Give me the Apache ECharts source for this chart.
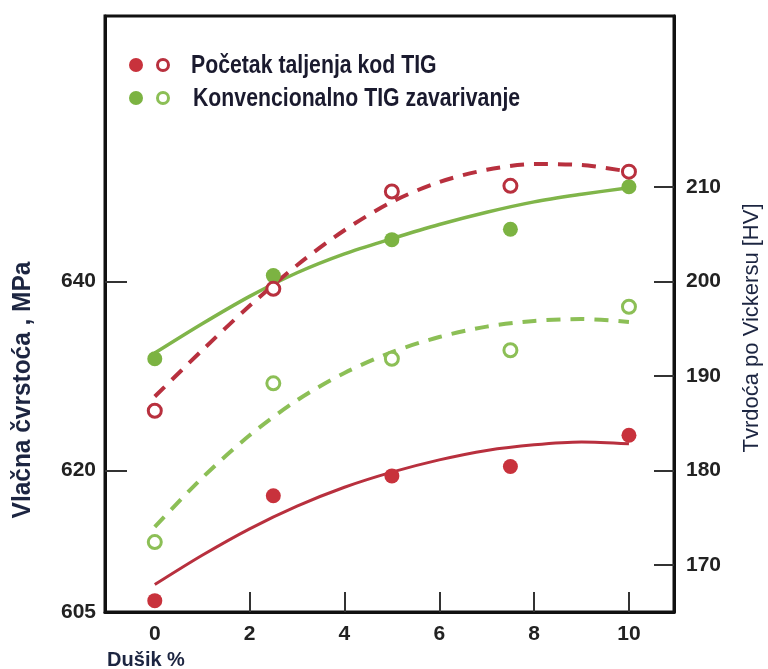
<!DOCTYPE html>
<html>
<head>
<meta charset="utf-8">
<script src="https://cdn.jsdelivr.net/npm/echarts@6/dist/echarts.min.js"></script>
<style>
html,body{margin:0;padding:0;background:#fff;}
#c{width:768px;height:669px;}
</style>
</head>
<body>
<div id="c"></div>
<script>
// x positions of measured points (Dušik %)
const xPts = [0, 2.5, 5, 7.5, 10];
// Tensile strength (MPa, left axis) measured points
const tensileTIG = [606.2, 617.3, 619.4, 620.4, 623.7];
const tensileConv = [631.8, 640.6, 644.4, 645.5, 650.0];
// Vickers hardness (HV, right axis) measured points
const hardTIG = [186.3, 199.2, 209.5, 210.1, 211.6];
const hardConv = [172.4, 189.2, 191.8, 192.7, 197.3];
// trend curves
const xFit = [0, 1, 2, 3, 4, 5, 6, 7, 8, 9, 10];
const tensileTIGFit = [607.9, 611.0, 613.8, 616.2, 618.2, 619.8, 621.1, 622.1, 622.7, 623.0, 622.8];
const tensileConvFit = [632.4, 635.5, 638.4, 640.9, 642.9, 644.5, 646.0, 647.3, 648.4, 649.2, 649.9];
const hardTIGFit = [187.8, 192.7, 197.4, 201.7, 205.4, 208.4, 210.5, 211.8, 212.4, 212.3, 211.6];
const hardConvFit = [174.0, 179.2, 183.7, 187.4, 190.3, 192.5, 194.1, 195.2, 195.8, 196.0, 195.7];
// tick labels
const xLabels = [0, 2, 4, 6, 8, 10];
const xTicks = [2, 4, 6, 8, 10];
const leftLabels = [605, 620, 640];
const leftTicks = [620, 640];
const rightLabels = [170, 180, 190, 200, 210];

const legendTIG = 'Početak taljenja kod TIG';
const legendConv = 'Konvencionalno TIG zavarivanje';
const xName = 'Dušik %';
const leftName = 'Vlačna čvrstoća , MPa';
const rightName = 'Tvrdoća po Vickersu [HV]';

const RED = '#c8323c', RED_LINE = '#b8303e';
const GREEN = '#7cb342', GREEN_LINE = '#80b54a', GREEN_OPEN = '#8cbf56';
const TXT = '#1c2541';
const SANS = "'Liberation Sans', Arial, sans-serif";

const zip = (xs, ys) => xs.map((x, i) => [x, ys[i]]);

const chart = echarts.init(document.getElementById('c'));
const tickLabel = {fontFamily: 'Liberation Sans', fontWeight: 'bold', fontSize: 21, color: '#222'};

chart.setOption({
  animation: false,
  backgroundColor: '#fff',
  grid: {left: 105, right: 94, top: 16, bottom: 57, show: true, borderColor: '#111', borderWidth: 3, containLabel: false},
  xAxis: {
    type: 'value', min: -1.05, max: 10.95,
    axisLine: {onZero: false, lineStyle: {color: '#111', width: 3}},
    axisTick: {inside: true, length: 20, customValues: xTicks, lineStyle: {color: '#333', width: 2}},
    axisLabel: Object.assign({customValues: xLabels, margin: 12}, tickLabel),
    splitLine: {show: false}
  },
  yAxis: [{
    type: 'value', position: 'left', min: 605, max: 668.07,
    axisLine: {show: true, onZero: false, lineStyle: {color: '#111', width: 3}},
    axisTick: {show: true, inside: true, length: 22, customValues: leftTicks, lineStyle: {color: '#333', width: 2}},
    axisLabel: Object.assign({customValues: leftLabels, margin: 9}, tickLabel),
    splitLine: {show: false}
  }, {
    type: 'value', position: 'right', min: 165, max: 228.07,
    axisLine: {show: true, onZero: false, lineStyle: {color: '#111', width: 3}},
    axisTick: {show: true, inside: true, length: 20, customValues: rightLabels, lineStyle: {color: '#333', width: 2}},
    axisLabel: Object.assign({customValues: rightLabels, margin: 12}, tickLabel),
    splitLine: {show: false}
  }],
  series: [
    {type: 'line', yAxisIndex: 0, data: zip(xFit, tensileTIGFit), smooth: 0.3, showSymbol: false, lineStyle: {color: RED_LINE, width: 3}, z: 2},
    {type: 'line', yAxisIndex: 0, data: zip(xFit, tensileConvFit), smooth: 0.3, showSymbol: false, lineStyle: {color: GREEN_LINE, width: 3.5}, z: 2},
    {type: 'line', yAxisIndex: 1, data: zip(xFit, hardTIGFit), smooth: 0.3, showSymbol: false, lineStyle: {color: RED_LINE, width: 4, type: [14, 10]}, z: 2},
    {type: 'line', yAxisIndex: 1, data: zip(xFit, hardConvFit), smooth: 0.3, showSymbol: false, lineStyle: {color: GREEN_OPEN, width: 4, type: [14, 10]}, z: 2},
    {type: 'scatter', yAxisIndex: 0, data: zip(xPts, tensileTIG), symbol: 'circle', symbolSize: 15, itemStyle: {color: RED, opacity: 1}, z: 5},
    {type: 'scatter', yAxisIndex: 0, data: zip(xPts, tensileConv), symbol: 'circle', symbolSize: 15, itemStyle: {color: GREEN, opacity: 1}, z: 5},
    {type: 'scatter', yAxisIndex: 1, data: zip(xPts, hardTIG), symbol: 'circle', symbolSize: 13, itemStyle: {color: '#fff', borderColor: RED_LINE, borderWidth: 3, opacity: 1}, z: 5},
    {type: 'scatter', yAxisIndex: 1, data: zip(xPts, hardConv), symbol: 'circle', symbolSize: 13, itemStyle: {color: '#fff', borderColor: GREEN_OPEN, borderWidth: 3, opacity: 1}, z: 5}
  ],
  graphic: [
    {type: 'circle', shape: {cx: 136, cy: 65, r: 7}, style: {fill: RED}, z: 10},
    {type: 'circle', shape: {cx: 163, cy: 65, r: 5.5}, style: {fill: '#fff', stroke: RED_LINE, lineWidth: 3}, z: 10},
    {type: 'text', x: 191, y: 66, scaleX: 0.85, style: {text: legendTIG, font: 'bold 25px ' + SANS, fill: '#1a1a2e', align: 'left', verticalAlign: 'middle'}, z: 10},
    {type: 'circle', shape: {cx: 136, cy: 98, r: 7}, style: {fill: GREEN}, z: 10},
    {type: 'circle', shape: {cx: 163, cy: 98, r: 5.5}, style: {fill: '#fff', stroke: GREEN_OPEN, lineWidth: 3}, z: 10},
    {type: 'text', x: 193, y: 99, scaleX: 0.85, style: {text: legendConv, font: 'bold 25px ' + SANS, fill: '#1a1a2e', align: 'left', verticalAlign: 'middle'}, z: 10},
    {type: 'text', x: 23, y: 390, rotation: Math.PI / 2, scaleX: 0.94, style: {text: leftName, font: 'bold 26px ' + SANS, fill: TXT, align: 'center', verticalAlign: 'middle'}, z: 10},
    {type: 'text', x: 752, y: 328, rotation: Math.PI / 2, style: {text: rightName, font: '22px ' + SANS, fill: TXT, align: 'center', verticalAlign: 'middle'}, z: 10},
    {type: 'text', x: 146, y: 660, style: {text: xName, font: 'bold 20px ' + SANS, fill: TXT, align: 'center', verticalAlign: 'middle'}, z: 10}
  ]
});
</script>
</body>
</html>
